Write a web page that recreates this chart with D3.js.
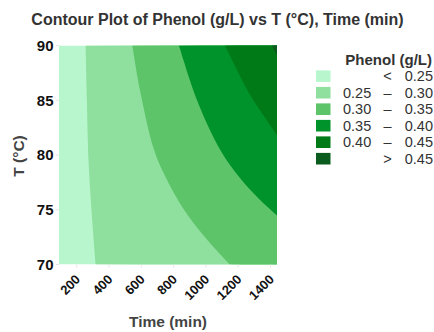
<!DOCTYPE html>
<html>
<head>
<meta charset="utf-8">
<script src="https://cdn.jsdelivr.net/npm/d3@7"></script>
<style>
  body { margin: 0; background: #fff; }
  text { font-family: "Liberation Sans", Arial, sans-serif; }
</style>
</head>
<body>
<div id="chart"></div>
<script>
// contour levels and fill colours (lowest band first)
const levels = [0.25, 0.30, 0.35, 0.40, 0.45]
const bandColors = ["#b8f6ce", "#8fdf9e", "#5dc469", "#00922b", "#007a17", "#0a5c1e"]
const legendLabels = [["", "<", "0.25"], ["0.25", "–", "0.30"], ["0.30", "–", "0.35"],
  ["0.35", "–", "0.40"], ["0.40", "–", "0.45"], ["", ">", "0.45"]]

// contour boundaries: [time (min), T (°C)]
const b25 = [[255, 90], [263, 85], [271, 80], [291, 75], [317, 70]]
const b30 = [[544, 90], [592, 85.9], [678, 80.5], [753, 77.9], [864, 75], [994, 72.5], [1149, 70]]
const b35 = [[833, 90], [945, 85], [1087, 80.5], [1211, 77.9], [1335, 75.9], [1440, 74.5]]
const b40 = [[1118, 90], [1273, 85.5], [1366, 83.4], [1440, 81.8]]
const b45 = [[1407, 90], [1440, 89.1]]
const boundaries = [b25, b30, b35, b40, b45]

const xTicks = [200, 400, 600, 800, 1000, 1200, 1400]
const yTicks = [70, 75, 80, 85, 90]

var width = 434, height = 332
var plot = { left: 59, right: 277, top: 45.5, bottom: 264.5 }

const svg = d3.select("#chart")
  .append("svg")
  .attr("width", width)
  .attr("height", height)

const x = d3.scaleLinear().domain([90, 1440]).range([plot.left, plot.right])
const y = d3.scaleLinear().domain([70, 90]).range([plot.bottom, plot.top])

svg.append("defs").append("clipPath")
  .attr("id", "plotClip")
  .append("rect")
  .attr("x", plot.left).attr("y", plot.top)
  .attr("width", plot.right - plot.left).attr("height", plot.bottom - plot.top)

const area = svg.append("g").attr("clip-path", "url(#plotClip)")

// lowest band covers the whole plot
area.append("rect")
  .attr("x", plot.left).attr("y", plot.top)
  .attr("width", plot.right - plot.left).attr("height", plot.bottom - plot.top)
  .attr("fill", bandColors[0])

const line = d3.line()
  .x(d => x(d[0]))
  .y(d => y(d[1]))
  .curve(d3.curveCatmullRom.alpha(0.5))

// each higher band fills everything to the right of its boundary
area.selectAll("path.band")
  .data(boundaries)
  .join("path")
  .attr("class", "band")
  .attr("fill", (d, i) => bandColors[i + 1])
  .attr("d", d => {
    var last = d[d.length - 1]
    var tail = last[0] >= 1440
      ? "L" + (plot.right + 2) + "," + (plot.top - 2) + "Z"
      : "L" + (plot.right + 2) + "," + (plot.bottom + 2) + "L" + (plot.right + 2) + "," + (plot.top - 2) + "Z"
    return line(d) + tail
  })

// faint tick marks
svg.append("g").selectAll("line")
  .data(xTicks)
  .join("line")
  .attr("x1", d => x(d)).attr("x2", d => x(d))
  .attr("y1", plot.bottom).attr("y2", plot.bottom + 3)
  .attr("stroke", "#e4e4e4")

svg.append("g").selectAll("line")
  .data(yTicks)
  .join("line")
  .attr("x1", plot.left - 3).attr("x2", plot.left)
  .attr("y1", d => y(d)).attr("y2", d => y(d))
  .attr("stroke", "#e4e4e4")

// y tick labels
svg.append("g").selectAll("text")
  .data(yTicks)
  .join("text")
  .attr("x", plot.left - 5.5)
  .attr("y", d => y(d))
  .attr("dy", "0.36em")
  .attr("text-anchor", "end")
  .attr("font-size", 15)
  .attr("font-weight", "bold")
  .attr("fill", "#111")
  .text(d => d)

// x tick labels, rotated
svg.append("g").selectAll("text")
  .data(xTicks)
  .join("text")
  .attr("transform", d => "translate(" + (x(d) + 1) + "," + (plot.bottom + 12.5) + ") rotate(-45)")
  .attr("text-anchor", "end")
  .attr("dy", "0.35em")
  .attr("font-size", 13)
  .attr("font-weight", "bold")
  .attr("fill", "#111")
  .text(d => d)

// titles
svg.append("text")
  .attr("x", 217.5).attr("y", 25)
  .attr("text-anchor", "middle")
  .attr("font-size", 16)
  .attr("font-weight", "bold")
  .attr("fill", "#333")
  .text("Contour Plot of Phenol (g/L) vs T (°C), Time (min)")

svg.append("text")
  .attr("x", (plot.left + plot.right) / 2).attr("y", 327)
  .attr("text-anchor", "middle")
  .attr("font-size", 15.5)
  .attr("font-weight", "bold")
  .attr("fill", "#444")
  .text("Time (min)")

svg.append("text")
  .attr("transform", "translate(23.5,156) rotate(-90)")
  .attr("text-anchor", "middle")
  .attr("font-size", 15.5)
  .attr("font-weight", "bold")
  .attr("fill", "#444")
  .text("T (°C)")

// legend
const legend = svg.append("g")

legend.append("text")
  .attr("x", 432).attr("y", 64.5)
  .attr("text-anchor", "end")
  .attr("font-size", 15)
  .attr("font-weight", "bold")
  .attr("fill", "#333")
  .text("Phenol (g/L)")

const rows = legend.selectAll("g.row")
  .data(bandColors)
  .join("g")
  .attr("class", "row")
  .attr("transform", (d, i) => "translate(0," + (76.2 + i * 16.5) + ")")

rows.append("rect")
  .attr("x", 316).attr("y", -5.8)
  .attr("width", 14.5).attr("height", 11.6)
  .attr("fill", d => d)

rows.append("text")
  .attr("x", 343).attr("dy", "0.36em")
  .attr("font-size", 14.5).attr("fill", "#333")
  .text((d, i) => legendLabels[i][0])

rows.append("text")
  .attr("x", 387.5)
  .attr("dy", "0.36em")
  .attr("text-anchor", "middle")
  .attr("font-size", 14.5).attr("fill", "#333")
  .text((d, i) => legendLabels[i][1])

rows.append("text")
  .attr("x", 433).attr("dy", "0.36em")
  .attr("text-anchor", "end")
  .attr("font-size", 14.5).attr("fill", "#333")
  .text((d, i) => legendLabels[i][2])
</script>
</body>
</html>
